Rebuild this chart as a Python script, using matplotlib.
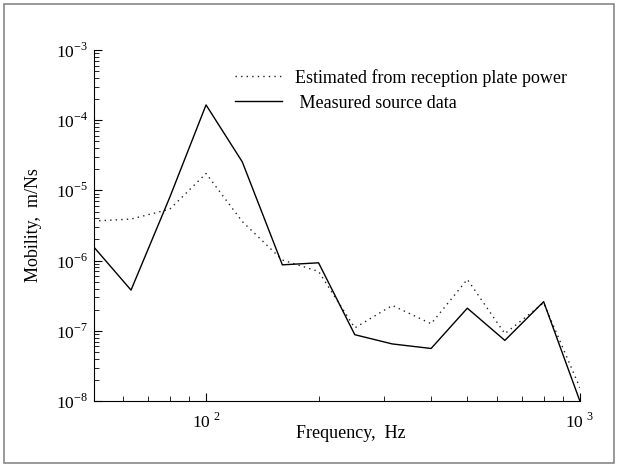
import matplotlib.pyplot as plt
from matplotlib.patches import Rectangle
from matplotlib.ticker import LogLocator, NullFormatter, FixedLocator

plt.rcParams["font.family"] = ["Liberation Serif", "DejaVu Serif"]
plt.rcParams["mathtext.fontset"] = "custom"
plt.rcParams["mathtext.rm"] = "Liberation Serif"

# one-third octave band centre frequencies
freq = [50, 63, 80, 100, 125, 160, 200, 250, 315, 400, 500, 630, 800, 1000]

estimated = [3.66e-6, 3.9e-6, 5.4e-6, 1.74e-5, 3.6e-6, 1.02e-6, 7.0e-7,
             1.1e-7, 2.3e-7, 1.26e-7, 5.4e-7, 9.1e-8, 2.5e-7, 1.55e-8]
measured = [1.58e-6, 3.8e-7, 8.0e-6, 1.65e-4, 2.55e-5, 8.7e-7, 9.3e-7,
            8.8e-8, 6.5e-8, 5.6e-8, 2.1e-7, 7.3e-8, 2.6e-7, 1.0e-8]

fig = plt.figure(figsize=(6.18, 4.67), dpi=100)
fig.patches.append(Rectangle((0.007, 0.008), 0.986, 0.984, transform=fig.transFigure,
                             fill=False, edgecolor="#888888", linewidth=1.2))
ax = fig.add_axes([0.1513, 0.1413, 0.787, 0.7517])

ax.plot(freq, estimated, color="#222222", linestyle=(0, (1, 3)), linewidth=1.0,
        label="Estimated from reception plate power")
ax.plot(freq, measured, color="black", linewidth=1.0, label=" Measured source data")

ax.set_xscale("log")
ax.set_yscale("log")
ax.set_xlim(50, 1000)
ax.set_ylim(1e-8, 1e-3)

ax.spines["top"].set_visible(False)
ax.spines["right"].set_visible(False)

ax.xaxis.set_major_locator(FixedLocator([100, 1000]))
ax.set_xticklabels(["10$^{\\ 2}$", "10$^{\\ 3}$"])
ax.xaxis.set_minor_locator(LogLocator(base=10, subs=range(2, 10)))
ax.xaxis.set_minor_formatter(NullFormatter())
ax.set_yticks([1e-8, 1e-7, 1e-6, 1e-5, 1e-4, 1e-3])
ax.set_yticklabels(["10$^{-8}$", "10$^{-7}$", "10$^{-6}$", "10$^{-5}$",
                    "10$^{-4}$", "10$^{-3}$"])
ax.yaxis.set_minor_locator(LogLocator(base=10, subs=range(2, 10), numticks=10))
ax.yaxis.set_minor_formatter(NullFormatter())

ax.tick_params(which="both", direction="in", labelsize=12.5)
ax.tick_params(which="major", length=6)
ax.tick_params(which="minor", length=3.5)
ax.tick_params(axis="x", pad=8)
ax.tick_params(axis="y", pad=4)

ax.set_xlabel("Frequency,  Hz", fontsize=13)
ax.set_ylabel("Mobility,  m/Ns", fontsize=13)
ax.xaxis.set_label_coords(0.529, -0.068)
ax.yaxis.set_label_coords(-0.106, 0.5)

ax.legend(loc="upper left", bbox_to_anchor=(0.291, 0.946), frameon=False, fontsize=13,
          borderpad=0, borderaxespad=0, handlelength=2.6, handletextpad=0.72,
          labelspacing=0.43)

fig.savefig("out.png", dpi=100)
